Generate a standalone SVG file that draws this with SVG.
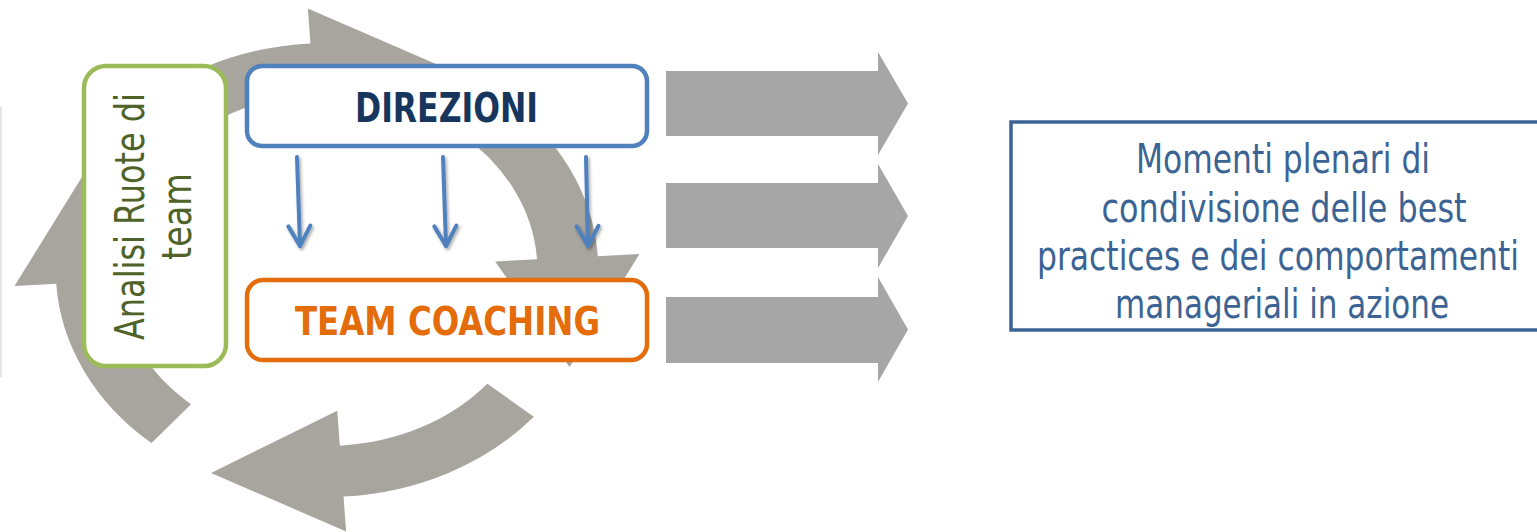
<svg xmlns="http://www.w3.org/2000/svg" width="1537" height="532" viewBox="0 0 1537 532">
<style>
.cyc{fill:#A7A59D}
.big{fill:#A6A6A6}
.box{fill:#FFFFFF;stroke-width:4.5}
.conn{fill:none;stroke:#4F81BD;stroke-width:4;stroke-linecap:round}
.narrow{font-family:'Liberation Sans Narrow','DejaVu Sans Condensed','Liberation Sans',sans-serif}
.cond{font-family:'DejaVu Sans Condensed','Liberation Sans Narrow','DejaVu Sans',sans-serif;font-weight:bold}
</style>
<defs>
<filter id="sh" filterUnits="userSpaceOnUse" x="0" y="0" width="1537" height="532">
<feDropShadow dx="1.5" dy="2" stdDeviation="1.5" flood-color="#000000" flood-opacity="0.35"/>
</filter>
<marker id="chev" markerUnits="userSpaceOnUse" viewBox="-24 -14 28 28" markerWidth="28" markerHeight="28" refX="0" refY="0" orient="auto" overflow="visible">
<path d="M-20,-11 L0,0 L-20,11" fill="none" stroke="#4F81BD" stroke-width="4" stroke-linecap="round" stroke-linejoin="round"/>
</marker>
<path id="cycArrow" d="M173.1 146.8 A227 227 0 0 1 13.86 226.6 L16 261.5 L-97 203 L8.6 140.7 L10.74 175.7 A176 176 0 0 0 134.2 113.8 Z"/>
</defs>
<rect x="0" y="107" width="2" height="270" fill="#E6E6E6"/>
<g id="cycle">
<use href="#cycArrow" class="cyc" transform="translate(327 270) scale(1.195 1) rotate(0)"/>
<use href="#cycArrow" class="cyc" transform="translate(327 270) scale(1.195 1) rotate(90)"/>
<use href="#cycArrow" class="cyc" transform="translate(327 270) scale(1.195 1) rotate(180)"/>
<use href="#cycArrow" class="cyc" transform="translate(327 270) scale(1.195 1) rotate(270)"/>
</g>
<g id="node-analisi">
<rect class="box" x="84" y="66" width="142" height="300" rx="22" stroke="#9BBB59"/>
<text class="narrow" font-size="40" fill="#4F6228" text-anchor="middle" transform="translate(144 216.5) rotate(-90)" textLength="247" lengthAdjust="spacingAndGlyphs">Analisi Ruote di</text>
<text class="narrow" font-size="40" fill="#4F6228" text-anchor="middle" transform="translate(191 216.5) rotate(-90)" textLength="87" lengthAdjust="spacingAndGlyphs">team</text>
</g>
<g id="node-direzioni">
<rect class="box" x="247" y="66" width="400" height="80" rx="15" stroke="#4F81BD"/>
<text class="cond" x="446.5" y="122" font-size="40" fill="#17365D" text-anchor="middle" textLength="183" lengthAdjust="spacingAndGlyphs">DIREZIONI</text>
</g>
<g id="node-team-coaching">
<rect class="box" x="247" y="280" width="400" height="80" rx="16" stroke="#E46C0A"/>
<text class="cond" x="447.5" y="335" font-size="39" fill="#E46C0A" text-anchor="middle" textLength="305" lengthAdjust="spacingAndGlyphs">TEAM COACHING</text>
</g>
<g id="connectors" filter="url(#sh)">
<path class="conn" d="M297 157 L300 246" marker-end="url(#chev)"/>
<path class="conn" d="M443 157 L446 246" marker-end="url(#chev)"/>
<path class="conn" d="M586 157 L588 246" marker-end="url(#chev)"/>
</g>
<g id="big-arrows">
<polygon class="big" points="666,71 878,71 878,52 908,103.5 878,155 878,136 666,136"/>
<polygon class="big" points="666,183 878,183 878,164 908,216 878,268 878,248 666,248"/>
<polygon class="big" points="666,297 878,297 878,277 908,329.5 878,382 878,363 666,363"/>
</g>
<g id="node-momenti">
<rect x="1011" y="122" width="540" height="208" fill="none" stroke="#3B6494" stroke-width="3.5"/>
<g class="narrow" font-size="41" fill="#3B6494" text-anchor="middle">
<text x="1283" y="173" textLength="294" lengthAdjust="spacingAndGlyphs">Momenti plenari di</text>
<text x="1284" y="222" textLength="365" lengthAdjust="spacingAndGlyphs">condivisione delle best</text>
<text x="1278" y="270" textLength="482" lengthAdjust="spacingAndGlyphs">practices e dei comportamenti</text>
<text x="1282" y="318" textLength="334" lengthAdjust="spacingAndGlyphs">manageriali in azione</text>
</g>
</g>
</svg>
